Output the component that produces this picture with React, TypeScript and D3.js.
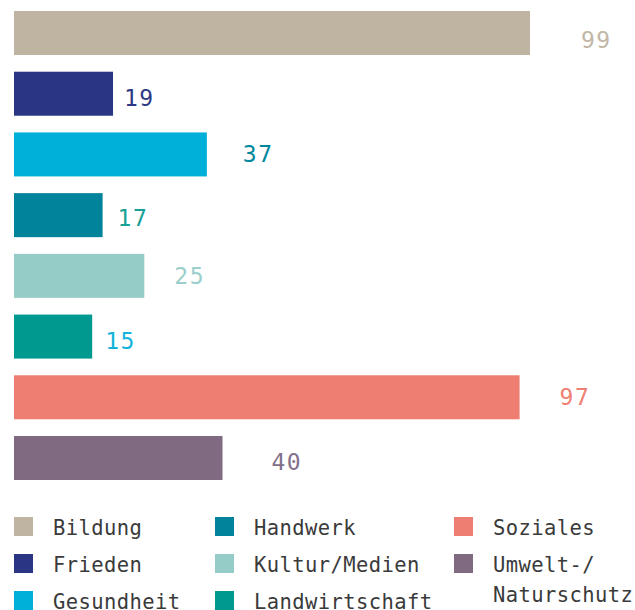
import React, { useEffect, useRef } from 'react'
import * as d3 from 'd3'

// data
const categories = ['Bildung', 'Frieden', 'Gesundheit', 'Handwerk', 'Kultur/Medien', 'Landwirtschaft', 'Soziales', 'Umwelt-/Naturschutz']
const values = [99, 19, 37, 17, 25, 15, 97, 40]
const barColors = ['#bfb3a2', '#2a3584', '#00b0d9', '#00839b', '#96ccc8', '#009990', '#ee7e72', '#806a81']
const labelColors = ['#c2b7a7', '#2f3a86', '#00879c', '#17a097', '#9bcfcb', '#12b3da', '#ef8074', '#82708a']
const legendLines = [['Bildung'], ['Frieden'], ['Gesundheit'], ['Handwerk'], ['Kultur/Medien'], ['Landwirtschaft'], ['Soziales'], ['Umwelt-/', 'Naturschutz']]

// hand placed value labels in the original layout (gap after bar end, vertical shift)
const labelGap = [51, 11, 36, 15, 30, 13, 40, 49]
const labelShift = [7, 4, -1, 3, 0, 4, -1, 4]

const W = 635
const H = 610
const FONT = '"DejaVu Sans Mono", monospace'

export default function App() {
  const ref = useRef<SVGSVGElement>(null)

  useEffect(() => {
    const svg = d3.select(ref.current)
    svg.selectAll('*').remove()

    const x = d3.scaleLinear().domain([0, 99]).range([14, 530])
    const y = d3.scaleBand<string>().domain(categories).range([11, 480]).paddingInner(0.275).paddingOuter(0)

    // Bars
    svg
      .append('g')
      .selectAll('rect')
      .data(categories)
      .join('rect')
      .attr('x', x(0))
      .attr('y', (d) => y(d)!)
      .attr('width', (d, i) => x(values[i]) - x(0))
      .attr('height', y.bandwidth())
      .attr('fill', (d, i) => barColors[i])

    // Value labels
    svg
      .append('g')
      .selectAll('text')
      .data(categories)
      .join('text')
      .attr('x', (d, i) => x(values[i]) + labelGap[i])
      .attr('y', (d, i) => y(d)! + y.bandwidth() / 2 + labelShift[i])
      .attr('dy', '0.36em')
      .style('font-family', FONT)
      .style('font-size', '23px')
      .style('letter-spacing', '1.5px')
      .style('fill', (d, i) => labelColors[i])
      .text((d, i) => values[i])

    // Legend: three columns, three rows
    const colX = d3.scaleOrdinal<number, number>().domain([0, 1, 2]).range([14, 215, 454])
    const rowY = d3.scaleLinear().domain([0, 1]).range([517, 554])

    const item = svg
      .append('g')
      .selectAll('g')
      .data(categories)
      .join('g')
      .attr('transform', (d, i) => 'translate(' + colX(Math.floor(i / 3)) + ',' + rowY(i % 3) + ')')

    item
      .append('rect')
      .attr('width', 19)
      .attr('height', 19)
      .attr('fill', (d, i) => barColors[i])

    item
      .append('text')
      .attr('x', 39)
      .attr('y', 18)
      .style('font-family', FONT)
      .style('font-size', '20.5px')
      .style('letter-spacing', '0.4px')
      .style('fill', '#3a3a3a')
      .selectAll('tspan')
      .data((d, i) => legendLines[i])
      .join('tspan')
      .attr('x', 39)
      .attr('dy', (d, j) => (j === 0 ? 0 : 30))
      .text((d) => d)
  }, [])

  return (
    <svg
      ref={ref}
      width={W}
      height={H}
      style={{ position: 'absolute', left: 0, top: 0, background: '#fff' }}
    />
  )
}
